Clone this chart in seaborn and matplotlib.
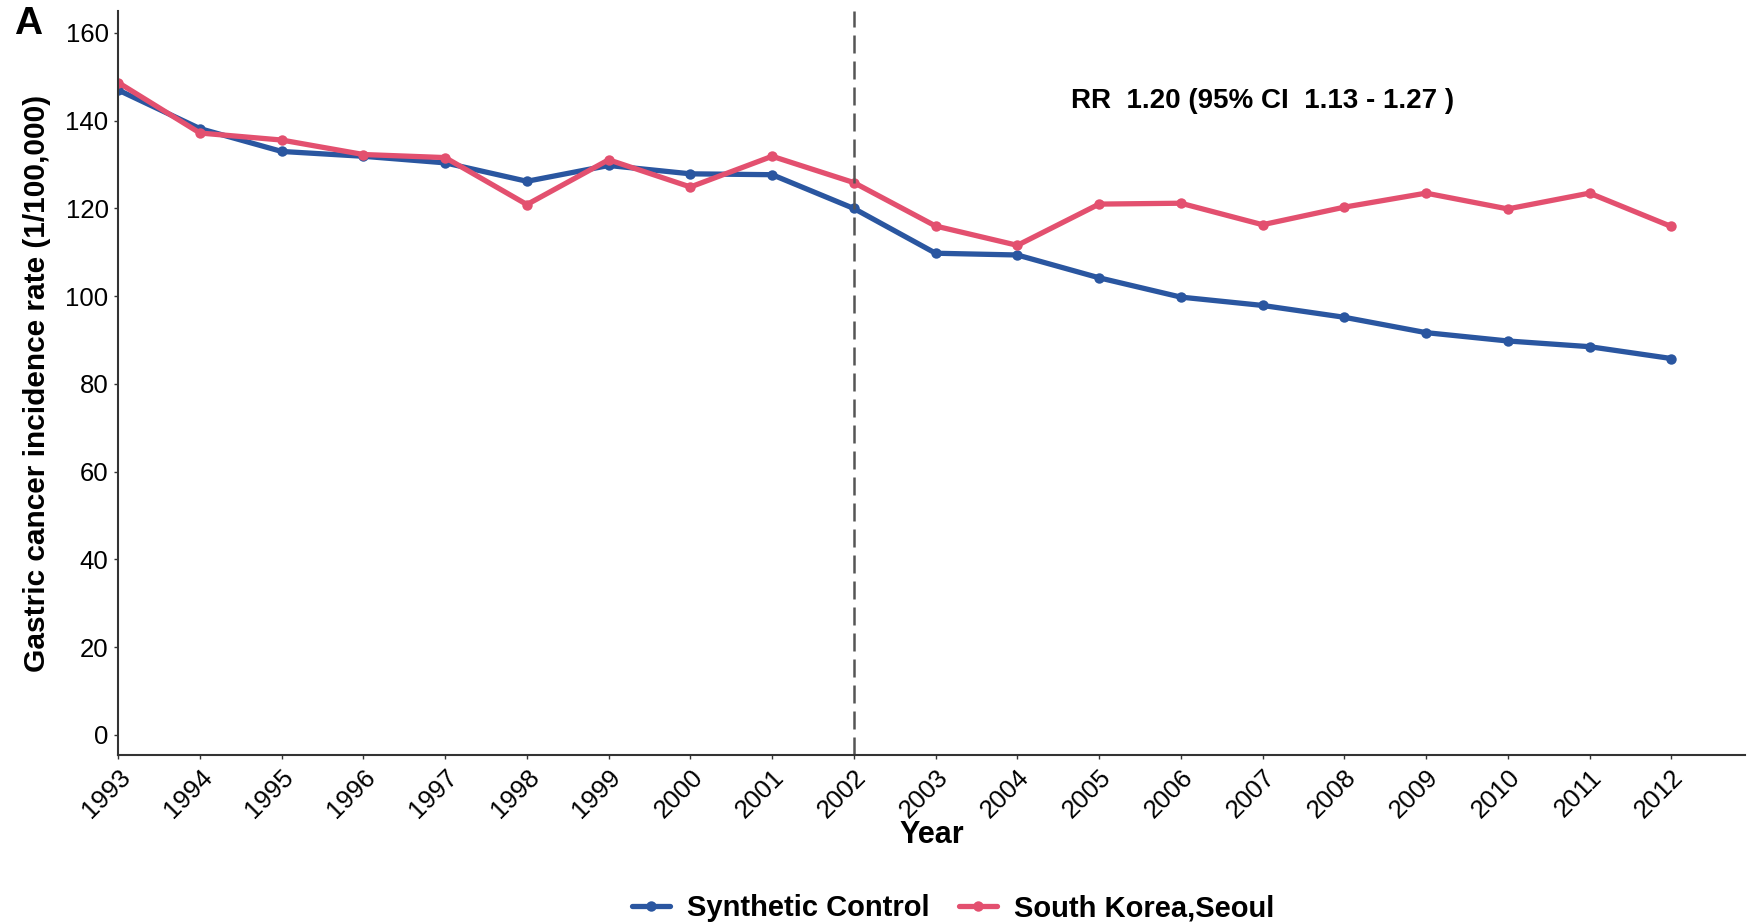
import pandas as pd
import seaborn as sns
import matplotlib.pyplot as plt

# Values
years = list(range(1993, 2013))
synthetic = [147.0, 138.2, 133.0, 131.9, 130.4, 126.2, 129.8, 127.9, 127.7, 120.0,
             109.8, 109.4, 104.2, 99.8, 97.9, 95.2, 91.7, 89.8, 88.5, 85.8]
seoul = [148.7, 137.2, 135.6, 132.3, 131.6, 120.9, 131.1, 124.9, 131.9, 125.9,
         116.0, 111.6, 121.0, 121.2, 116.3, 120.3, 123.5, 119.9, 123.5, 115.9]
groups = ['Synthetic Control', 'South Korea,Seoul']
colors = ['#2A56A0', '#E3506F']
intervention_year = 2002
rr_text = 'RR  1.20 (95% CI  1.13 - 1.27 )'

# Long format for seaborn
df = pd.DataFrame({
    'Year': years * 2,
    'Rate': synthetic + seoul,
    'Group': [groups[0]] * len(years) + [groups[1]] * len(years),
})

sns.set_style('white')
plt.rcParams['font.family'] = ['Liberation Sans', 'DejaVu Sans']
plt.rcParams['text.color'] = 'black'
plt.rcParams['xtick.color'] = 'black'
plt.rcParams['ytick.color'] = 'black'
plt.rcParams['axes.labelcolor'] = 'black'

fig = plt.figure(figsize=(17.49, 9.22), dpi=100)
ax = fig.add_axes([0.0676, 0.181, 0.93, 0.807])

sns.lineplot(data=df, x='Year', y='Rate', hue='Group', hue_order=groups,
             palette=colors, marker='o', markersize=7.5, markeredgewidth=0,
             linewidth=3.8, ax=ax, legend=False)

# Intervention line
ax.axvline(intervention_year, color='#555555', linestyle=(0, (7.2, 3.2)), linewidth=1.8)

ax.text(2007, 144.6, rr_text, ha='center', va='center', fontsize=20, fontweight='bold')

ax.set_xlim(1993, 2012.9)
ax.set_ylim(-4.6, 165)
ax.set_xticks(years)
ax.set_xticklabels([str(y) for y in years], rotation=45, ha='right', va='top',
                   rotation_mode='anchor', fontsize=18.5)
ax.set_yticks(range(0, 161, 20))
ax.tick_params(axis='y', labelsize=18.5)
ax.tick_params(axis='both', direction='out', length=3, width=1, color='#333333',
               bottom=True, left=True, pad=4)

ax.set_xlabel('Year', fontsize=22, fontweight='bold', labelpad=-2)
ax.set_ylabel('Gastric cancer incidence rate (1/100,000)', fontsize=21.5,
              fontweight='bold', labelpad=10)

sns.despine(ax=ax)
for side in ['left', 'bottom']:
    ax.spines[side].set_color('#333333')
    ax.spines[side].set_linewidth(1.5)

fig.text(0.008, 0.974, 'A', fontsize=28, fontweight='bold', va='center')

# Legend at bottom
handles = [plt.Line2D([], [], color=c, lw=3.8, marker='o', markersize=7.5,
                      markeredgewidth=0) for c in colors]
fig.legend(handles, groups, loc='center', bbox_to_anchor=(0.545, 0.015), ncol=2,
           frameon=False, prop={'size': 21, 'weight': 'bold'}, handlelength=1.3,
           columnspacing=1.0, handletextpad=0.6)

fig.savefig('out.png', dpi=100)
